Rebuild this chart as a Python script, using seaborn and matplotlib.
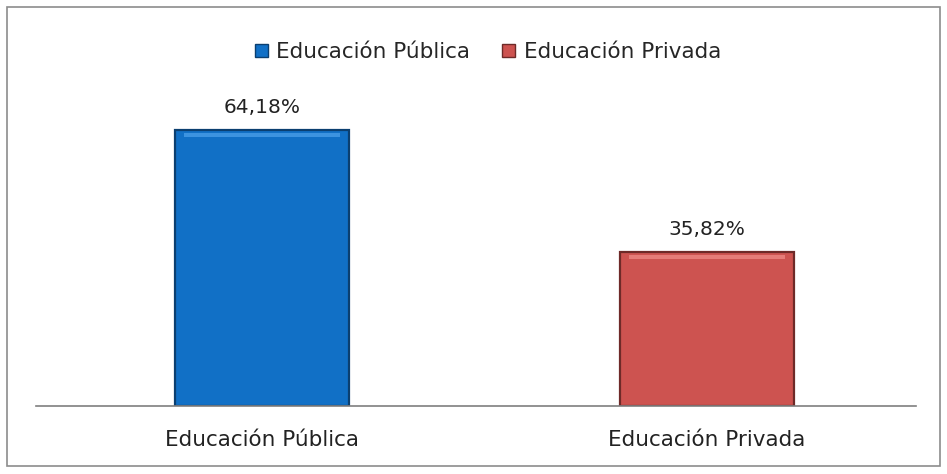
import matplotlib
matplotlib.use("Agg")
import matplotlib.pyplot as plt
import seaborn as sns
import pandas as pd
from matplotlib.patches import Patch, Rectangle

categories = ["Educación Pública", "Educación Privada"]
values = [64.18, 35.82]
value_labels = ["64,18%", "35,82%"]
colors = ["#1170C6", "#CD5350"]
edge_colors = ["#0B3F70", "#6E2A28"]
highlight_colors = ["#3C93E0", "#E57C78"]

sns.set_theme(style="white")
plt.rcParams["font.family"] = ["DejaVu Sans"]

df = pd.DataFrame({"categoria": categories, "valor": values})

fig = plt.figure(figsize=(9.47, 4.74), dpi=100)
ax = fig.add_axes([36 / 947, 1 - 406 / 474, 880 / 947, 344 / 474])

sns.barplot(data=df, x="categoria", y="valor", hue="categoria", palette=colors,
            width=0.39, legend=False, ax=ax, saturation=1)

# darker outline plus a light bevel strip along the top of each bar
for bar, ec, hc in zip(list(ax.patches), edge_colors, highlight_colors):
    bar.set_edgecolor(ec)
    bar.set_linewidth(1.6)
    x0, w, h = bar.get_x(), bar.get_width(), bar.get_height()
    ax.add_patch(Rectangle((x0 + w * 0.05, h - 1.6), w * 0.9, 0.9,
                           facecolor=hc, edgecolor="none", zorder=bar.get_zorder() + 0.1))

for i, (v, lab) in enumerate(zip(values, value_labels)):
    ax.text(i, v + 3.0, lab, ha="center", va="bottom", fontsize=14.5, color="#222222")

ax.set_xlim(-0.508, 1.47)
ax.set_ylim(0, 80)
ax.set_yticks([])
ax.set_xlabel("")
ax.set_ylabel("")
ax.tick_params(axis="x", length=0, pad=17, labelsize=15.5, labelcolor="#222222")
for side in ["top", "right", "left"]:
    ax.spines[side].set_visible(False)
ax.spines["bottom"].set_color("#7f7f7f")
ax.spines["bottom"].set_linewidth(1.2)

handles = [Patch(facecolor=c, edgecolor=e, label=l) for c, e, l in zip(colors, edge_colors, categories)]
fig.legend(handles=handles, loc="center", bbox_to_anchor=(488 / 947, 1 - 52 / 474), ncol=2,
           frameon=False, fontsize=15.5, handlelength=0.6, handleheight=0.6,
           handletextpad=0.4, columnspacing=1.5)

fig.patches.append(Rectangle((7 / 947, 8 / 474), 933 / 947, 459 / 474, transform=fig.transFigure,
                             fill=False, edgecolor="#8c8c8c", linewidth=1.2))

fig.savefig("out.png", dpi=100)
